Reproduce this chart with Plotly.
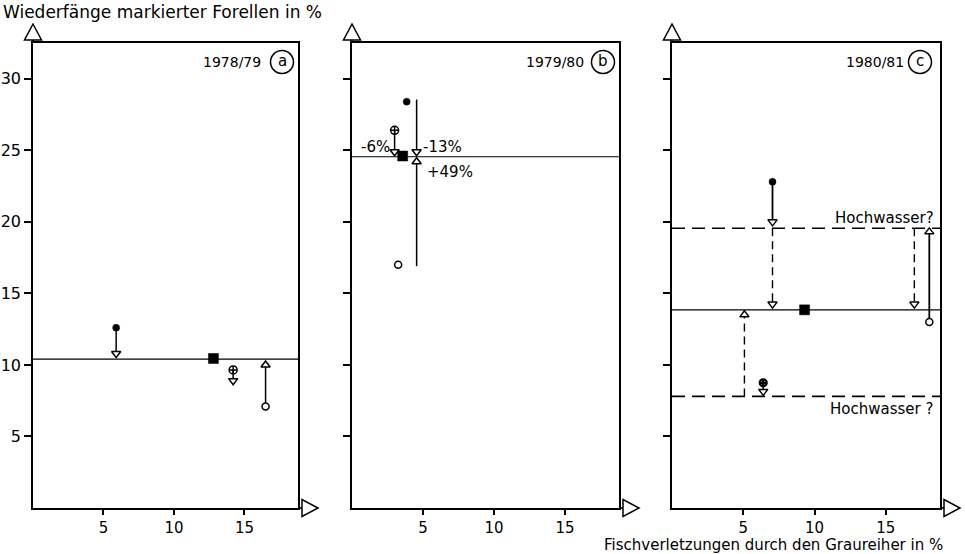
import plotly.graph_objects as go

# ---------------- data ----------------
x_ticks = [5, 10, 15]
y_ticks = [5, 10, 15, 20, 25, 30]
y_tick_labels = ["5", "10", "15", "20", "25", "30"]
panel_years = ["1978/79", "1979/80", "1980/81"]
panel_letters = ["a", "b", "c"]

# panel a (1978/79)
a_mean = 10.4
a_square = [12.8, 10.45]
a_filled = [5.9, 12.6]
a_filled_to = 10.8
a_cross = [14.2, 9.65]
a_cross_to = 8.9
a_open = [16.5, 7.1]
a_open_to = 10.0

# panel b (1979/80)
b_mean = 24.55
b_square = [3.57, 24.6]
b_filled = [3.85, 28.4]
b_cross = [3.0, 26.4]
b_cross_to = 24.9
b_open = [3.25, 17.0]
b_bar_x = 4.55
b_bar_down = [28.55, 24.9]
b_bar_up = [16.9, 24.2]
b_labels = ["-6%", "-13%", "+49%"]

# panel c (1980/81)
c_mean = 13.85
c_square = [9.3, 13.85]
c_AB = 19.55
c_C = 7.8
c_filled = [7.05, 22.8]
c_filled_to = 20.0
c_dash_down_x = [7.05, 17.0]
c_dash_down_to = 14.25
c_open = [18.05, 13.0]
c_open_to = 19.3
c_dash_up_x = 5.08
c_dash_up_to = 13.5
c_cross = [6.4, 8.75]
c_cross_to = 8.15

y_title = "Wiederfänge markierter Forellen in %"
x_title = "Fischverletzungen durch den Graureiher in %"

# ---------------- layout geometry (page pixels) ----------------
W, H = 965, 554
PANELS_PX = [(33, 298), (352, 619), (672, 940)]
TOP_PX, BOT_PX = 43, 508
X_RANGE = [0, 18.8]
Y_RANGE = [0, 32.5]
FONT = "DejaVu Sans"
TICKFONT = "DejaVu Sans"


def PX(px):
    return px / W


def PY(py):
    return 1 - py / H


fig = go.Figure()
suffix = ["", "2", "3"]

for i, (L, R) in enumerate(PANELS_PX):
    s = suffix[i]
    fig.layout["xaxis" + s] = dict(
        domain=[PX(L), PX(R)], range=X_RANGE, anchor="y" + s,
        showline=True, mirror=True, linecolor="black", linewidth=1.6,
        ticks="outside", ticklen=5, tickwidth=1.5, tickcolor="black",
        tickvals=x_ticks, ticktext=[str(v) for v in x_ticks],
        tickfont=dict(family=TICKFONT, size=15, color="black"),
        showgrid=False, zeroline=False, automargin=False, fixedrange=True)
    fig.layout["yaxis" + s] = dict(
        domain=[PY(BOT_PX), PY(TOP_PX)], range=Y_RANGE, anchor="x" + s,
        showline=True, mirror=True, linecolor="black", linewidth=1.6,
        ticks="outside", ticklen=7, tickwidth=1.5, tickcolor="black",
        tickvals=y_ticks, ticktext=y_tick_labels, showticklabels=(i == 0),
        tickfont=dict(family=TICKFONT, size=16, color="black"),
        showgrid=False, zeroline=False, automargin=False, fixedrange=True)


def ax(i):
    return dict(xaxis="x" + suffix[i], yaxis="y" + suffix[i])


def line(i, xs, ys, dash=None, width=1.5):
    fig.add_trace(go.Scatter(x=xs, y=ys, mode="lines", hoverinfo="skip",
                             line=dict(color="black", width=width, dash=dash),
                             **ax(i)))


def mark(i, xs, ys, symbol, size, fill="black", lw=1.5):
    fig.add_trace(go.Scatter(x=xs, y=ys, mode="markers", hoverinfo="skip",
                             cliponaxis=False,
                             marker=dict(symbol=symbol, size=size, color=fill,
                                         line=dict(color="black", width=lw)),
                             **ax(i)))


# ---- panel a ----
line(0, X_RANGE, [a_mean, a_mean], width=1.2)
line(0, [a_filled[0], a_filled[0]], [a_filled[1], a_filled_to])
line(0, [a_cross[0], a_cross[0]], [a_cross[1], a_cross_to])
line(0, [a_open[0], a_open[0]], [a_open[1], a_open_to])
mark(0, [a_filled[0], a_cross[0]], [a_filled_to, a_cross_to], "triangle-down", 8, "white")
mark(0, [a_open[0]], [a_open_to], "triangle-up", 8, "white")
mark(0, [a_square[0]], [a_square[1]], "square", 10, "black", 0.5)
mark(0, [a_filled[0]], [a_filled[1]], "circle", 7, "black", 0.5)
mark(0, [a_cross[0]], [a_cross[1]], "circle-cross-open", 8, "black", 1.5)
mark(0, [a_open[0]], [a_open[1]], "circle", 7, "white", 1.5)

# ---- panel b ----
line(1, X_RANGE, [b_mean, b_mean], width=1.2)
line(1, [b_cross[0], b_cross[0]], [b_cross[1], b_cross_to])
line(1, [b_bar_x, b_bar_x], b_bar_down)
line(1, [b_bar_x, b_bar_x], b_bar_up)
mark(1, [b_cross[0], b_bar_x], [b_cross_to, b_bar_down[1]], "triangle-down", 8, "white")
mark(1, [b_bar_x], [b_bar_up[1]], "triangle-up", 8, "white")
mark(1, [b_square[0]], [b_square[1]], "square", 10, "black", 0.5)
mark(1, [b_filled[0]], [b_filled[1]], "circle", 7, "black", 0.5)
mark(1, [b_cross[0]], [b_cross[1]], "circle-cross-open", 8, "black", 1.5)
mark(1, [b_open[0]], [b_open[1]], "circle", 7, "white", 1.5)

# ---- panel c ----
line(2, X_RANGE, [c_mean, c_mean], width=1.2)
line(2, X_RANGE, [c_AB, c_AB], dash="13px,7px", width=1.6)
line(2, X_RANGE, [c_C, c_C], dash="13px,7px", width=1.6)
line(2, [c_filled[0], c_filled[0]], [c_filled[1], c_filled_to], width=1.8)
for xv in c_dash_down_x:
    line(2, [xv, xv], [c_AB, c_dash_down_to], dash="8px,5px", width=1.4)
line(2, [c_dash_up_x, c_dash_up_x], [c_C, c_dash_up_to], dash="8px,5px", width=1.4)
line(2, [c_open[0], c_open[0]], [c_open[1], c_open_to], width=1.8)
line(2, [c_cross[0], c_cross[0]], [c_cross[1], c_cross_to])
mark(2, [c_filled[0]] + c_dash_down_x + [c_cross[0]],
     [c_filled_to, c_dash_down_to, c_dash_down_to, c_cross_to], "triangle-down", 8, "white")
mark(2, [c_open[0], c_dash_up_x], [c_open_to, c_dash_up_to], "triangle-up", 8, "white")
mark(2, [c_square[0]], [c_square[1]], "square", 10, "black", 0.5)
mark(2, [c_filled[0]], [c_filled[1]], "circle", 7, "black", 0.5)
mark(2, [c_cross[0]], [c_cross[1]], "circle-cross-open", 7, "black", 2.2)
mark(2, [c_open[0]], [c_open[1]], "circle", 7, "white", 1.5)

# ---------------- annotations ----------------
ann = []


def txt(text, x, y, xref="paper", yref="paper", xanchor="center", yanchor="middle", size=15):
    ann.append(dict(text=text, x=x, y=y, xref=xref, yref=yref, xanchor=xanchor,
                    yanchor=yanchor, showarrow=False, borderpad=0,
                    font=dict(family=FONT, size=size, color="black")))


txt(y_title, PX(2), PY(12), xanchor="left", size=17)
txt(x_title, PX(944), PY(535), xanchor="right", yanchor="top", size=15)

# panel b labels
txt(b_labels[0], 2.75, 25.25, "x2", "y2", xanchor="right")
txt(b_labels[1], 4.95, 25.25, "x2", "y2", xanchor="left")
txt(b_labels[2], 5.2, 23.5, "x2", "y2", xanchor="left")

# panel c labels
txt("A+B", -0.1, c_AB, "x3", "y3", xanchor="right", size=14)
txt("C", -0.45, c_C, "x3", "y3", xanchor="right", size=15)
txt("Hochwasser?", 18.45, c_AB + 0.7, "x3", "y3", xanchor="right", size=15)
txt("Hochwasser ?", 18.35, c_C - 0.85, "x3", "y3", xanchor="right", size=15)

shapes = []
year_right = [262, 585, 905]
circ_cx = [282, 603, 920]
for i, (L, R) in enumerate(PANELS_PX):
    # year label + circled letter
    txt(panel_years[i], PX(year_right[i]), PY(62), xanchor="right", size=14)
    r = 11.5
    shapes.append(dict(type="circle", xref="paper", yref="paper",
                       x0=PX(circ_cx[i] - r), x1=PX(circ_cx[i] + r),
                       y0=PY(62 + r), y1=PY(62 - r),
                       line=dict(color="black", width=1.5)))
    txt(panel_letters[i], PX(circ_cx[i]), PY(61), size=15)
    # y-axis arrow (open triangle on top of the axis)
    shapes.append(dict(type="path", xref="paper", yref="paper",
                       path=f"M {PX(L-8.5)},{PY(40)} L {PX(L+8.5)},{PY(40)} L {PX(L)},{PY(24)} Z",
                       line=dict(color="black", width=1.5), fillcolor="white"))
    shapes.append(dict(type="line", xref="paper", yref="paper",
                       x0=PX(L), x1=PX(L), y0=PY(TOP_PX), y1=PY(40),
                       line=dict(color="black", width=1.6)))
    # x-axis arrow (open triangle at the right end)
    shapes.append(dict(type="line", xref="paper", yref="paper",
                       x0=PX(R), x1=PX(R + 4), y0=PY(BOT_PX), y1=PY(BOT_PX),
                       line=dict(color="black", width=1.6)))
    shapes.append(dict(type="path", xref="paper", yref="paper",
                       path=f"M {PX(R+4)},{PY(BOT_PX-8.5)} L {PX(R+4)},{PY(BOT_PX+8.5)} L {PX(R+20)},{PY(BOT_PX)} Z",
                       line=dict(color="black", width=1.5), fillcolor="white"))

fig.update_layout(width=W, height=H, margin=dict(l=0, r=0, t=0, b=0),
                  template="none", paper_bgcolor="white", plot_bgcolor="white",
                  showlegend=False, annotations=ann, shapes=shapes)

# remove the page's default body margin so the figure fills the window exactly
fig.write_html("out.html", config={"displayModeBar": False},
               post_script="document.body.style.margin='0';document.body.style.overflow='hidden';")
